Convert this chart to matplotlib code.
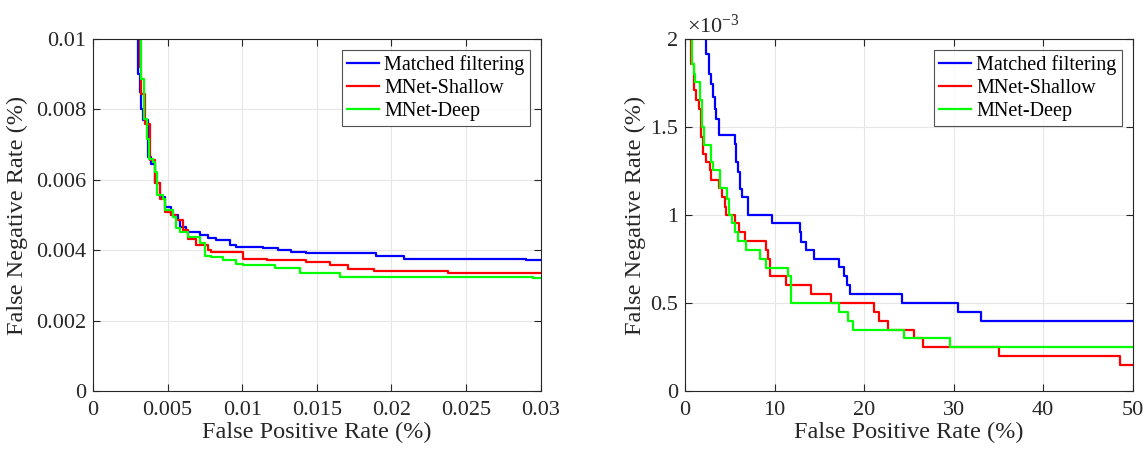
"""
ROC-style comparison: false negative rate vs false positive rate
"""

import matplotlib
matplotlib.use('Agg')
import matplotlib.pyplot as plt
from matplotlib.ticker import FuncFormatter, MultipleLocator

plt.rcParams['font.family'] = ['Liberation Serif', 'DejaVu Serif']
plt.rcParams['mathtext.fontset'] = 'custom'
plt.rcParams['mathtext.rm'] = 'Liberation Serif'
plt.rcParams['mathtext.it'] = 'Liberation Serif:italic'

series_names = ['Matched filtering', 'MNet-Shallow', 'MNet-Deep']
series_colors = ['#0000ff', '#ff0000', '#00ff00']

# left panel (zoomed tail)
left_fpr_mf = [0.00290, 0.00301, 0.00312, 0.00324, 0.00335, 0.00368, 0.00390, 0.00413, 0.00446,
               0.00480, 0.00525, 0.00569, 0.00580, 0.00625, 0.00714, 0.00770, 0.00826, 0.00915,
               0.00960, 0.01138, 0.01239, 0.01328, 0.01429, 0.01897, 0.02087, 0.02902, 0.03000]
left_fnr_mf = [0.0110, 0.00901, 0.00850, 0.00800, 0.00769, 0.00665, 0.00646, 0.00590, 0.00552,
               0.00524, 0.00500, 0.00486, 0.00467, 0.00451, 0.00442, 0.00434, 0.00429, 0.00415,
               0.00410, 0.00406, 0.00401, 0.00396, 0.00392, 0.00385, 0.00375, 0.00371, 0.00371]

left_fpr_sh = [0.00301, 0.00312, 0.00324, 0.00346, 0.00379, 0.00413, 0.00446, 0.00480, 0.00525,
               0.00558, 0.00603, 0.00636, 0.00692, 0.00770, 0.00792, 0.01004, 0.01167, 0.01429,
               0.01585, 0.01708, 0.01886, 0.02377, 0.03000]
left_fnr_sh = [0.0110, 0.00920, 0.00844, 0.00759, 0.00656, 0.00590, 0.00547, 0.00509, 0.00500,
               0.00486, 0.00458, 0.00431, 0.00415, 0.00401, 0.00396, 0.00375, 0.00371, 0.00366,
               0.00357, 0.00346, 0.00342, 0.00336, 0.00336]

left_fpr_dp = [0.00312, 0.00320, 0.00342, 0.00364, 0.00373, 0.00402, 0.00413, 0.00431, 0.00469,
               0.00485, 0.00536, 0.00559, 0.00580, 0.00636, 0.00714, 0.00748, 0.00792, 0.00871,
               0.00960, 0.01004, 0.01217, 0.01384, 0.01652, 0.02946, 0.03000]
left_fnr_dp = [0.0110, 0.00887, 0.00774, 0.00717, 0.00660, 0.00651, 0.00623, 0.00557, 0.00547,
               0.00514, 0.00495, 0.00462, 0.00453, 0.00439, 0.00420, 0.00385, 0.00380, 0.00371,
               0.00361, 0.00357, 0.00351, 0.00336, 0.00325, 0.00321, 0.00321]

# right panel (FNR in units of 1e-3)
right_fpr_mf = [2.19, 2.38, 2.68, 2.94, 3.12, 3.31, 3.49, 3.79, 5.54, 5.72, 5.91, 6.10, 6.39,
                7.03, 9.74, 12.79, 12.97, 13.53, 14.46, 17.25, 17.73, 18.10, 18.44, 24.24,
                30.45, 33.05, 50.0]
right_fnr_mf = [2.2, 1.915, 1.80, 1.745, 1.67, 1.60, 1.547, 1.453, 1.406, 1.30, 1.245, 1.15,
                1.104, 1.0, 0.953, 0.906, 0.849, 0.802, 0.751, 0.704, 0.651, 0.60, 0.551, 0.50,
                0.449, 0.40, 0.40]

right_fpr_sh = [0.45, 0.71, 0.97, 1.26, 1.56, 1.82, 2.01, 2.30, 2.75, 2.94, 3.79, 4.16, 4.42,
                4.61, 5.54, 6.02, 6.65, 9.00, 9.26, 9.44, 11.23, 14.09, 16.32, 21.15, 21.71,
                22.64, 25.61, 26.54, 35.09, 48.55, 50.0]
right_fnr_sh = [2.2, 1.858, 1.708, 1.651, 1.60, 1.443, 1.349, 1.302, 1.255, 1.198, 1.151, 1.104,
                1.047, 1.0, 0.953, 0.902, 0.853, 0.802, 0.751, 0.651, 0.60, 0.551, 0.50, 0.449,
                0.40, 0.349, 0.302, 0.249, 0.198, 0.151, 0.151]

right_fpr_dp = [0.52, 0.82, 0.97, 1.08, 1.71, 1.93, 2.08, 2.94, 3.12, 3.87, 4.68, 4.91, 5.24,
                5.54, 5.91, 6.77, 8.40, 9.07, 11.49, 11.86, 17.17, 18.18, 18.74, 24.50, 29.59, 50.0]
right_fnr_dp = [2.2, 1.858, 1.80, 1.755, 1.651, 1.50, 1.40, 1.302, 1.255, 1.151, 1.094, 1.0,
                0.953, 0.902, 0.853, 0.802, 0.751, 0.698, 0.651, 0.50, 0.449, 0.40, 0.349,
                0.302, 0.249, 0.249]

fnr_scale = 1e-3


def style_axes(ax, ylabel_x):
    ax.grid(True, color='#e6e6e6', linewidth=0.8)
    ax.set_axisbelow(True)
    for sp in ax.spines.values():
        sp.set_color('#262626')
        sp.set_linewidth(0.8)
    ax.tick_params(direction='in', top=True, right=True, length=5, width=0.8,
                   colors='#262626', labelsize=16, labelcolor='#262626')
    ax.tick_params(axis='x', pad=7)
    ax.tick_params(axis='y', pad=5)
    ax.set_xlabel('False Positive Rate (%)', fontsize=17.5, color='#262626')
    ax.set_ylabel('False Negative Rate (%)', fontsize=17.5, color='#262626')
    ax.xaxis.set_label_coords(0.5, -0.088)
    ax.xaxis.label.set_va('top')
    ax.yaxis.set_label_coords(ylabel_x, 0.5)
    leg = ax.legend(loc='upper right', fontsize=14.5, frameon=True, fancybox=False,
                    edgecolor='#262626', handlelength=1.6, handletextpad=0.25,
                    borderpad=0.25, labelspacing=0.2, borderaxespad=0.55)
    leg.get_frame().set_linewidth(0.8)


fig = plt.figure(figsize=(11.48, 4.49), dpi=100)
ax1 = fig.add_axes([0.081, 0.129, 0.390, 0.784])
ax2 = fig.add_axes([0.5967, 0.129, 0.390, 0.784])

left_data = [(left_fpr_mf, left_fnr_mf), (left_fpr_sh, left_fnr_sh), (left_fpr_dp, left_fnr_dp)]
for (x, y), name, c in zip(left_data, series_names, series_colors):
    ax1.plot(x, y, drawstyle='steps-post', color=c, linewidth=1.6, label=name)
ax1.set_xlim(0, 0.03)
ax1.set_ylim(0, 0.01)
ax1.xaxis.set_major_locator(MultipleLocator(0.005))
ax1.yaxis.set_major_locator(MultipleLocator(0.002))
ax1.xaxis.set_major_formatter(FuncFormatter(lambda v, p: '%g' % round(v, 6)))
ax1.yaxis.set_major_formatter(FuncFormatter(lambda v, p: '%g' % round(v, 6)))
style_axes(ax1, -0.145)

right_data = [(right_fpr_mf, right_fnr_mf), (right_fpr_sh, right_fnr_sh), (right_fpr_dp, right_fnr_dp)]
for (x, y), name, c in zip(right_data, series_names, series_colors):
    ax2.plot(x, [v * fnr_scale for v in y], drawstyle='steps-post', color=c,
             linewidth=1.6, label=name)
ax2.set_xlim(0, 50)
ax2.set_ylim(0, 2 * fnr_scale)
ax2.xaxis.set_major_locator(MultipleLocator(10))
ax2.yaxis.set_major_locator(MultipleLocator(0.5 * fnr_scale))
ax2.yaxis.set_major_formatter(FuncFormatter(lambda v, p: '%g' % round(v / fnr_scale, 6)))
style_axes(ax2, -0.087)
ax2.text(0.005, 1.017, r'$\times10^{-3}$', transform=ax2.transAxes, ha='left', va='baseline',
         fontsize=16, color='#262626')

fig.savefig('out.png', dpi=100, facecolor='white')
plt.close(fig)
